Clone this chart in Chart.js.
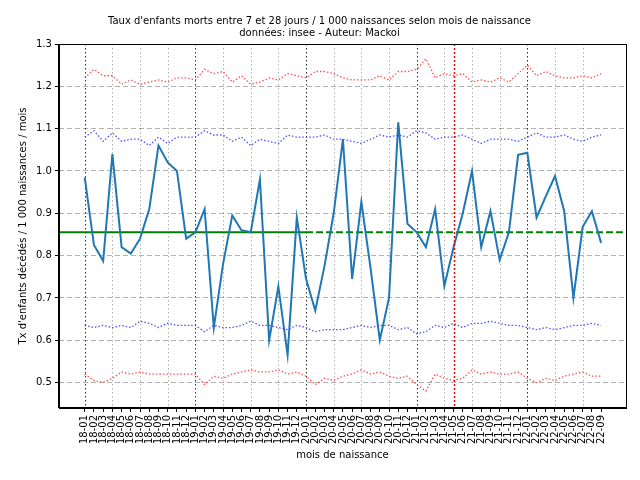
<!DOCTYPE html>
<html>
<head>
<meta charset="utf-8">
<script src="https://cdn.jsdelivr.net/npm/chart.js@4"></script>
<style>
  html, body { margin: 0; padding: 0; background: #fff; }
  #wrap { width: 640px; height: 480px; }
</style>
</head>
<body>
<div id="wrap"><canvas id="chart" width="640" height="480"></canvas></div>
<script>
const months = [];
for (let y = 18; y <= 22; y++) {
  for (let m = 1; m <= 12; m++) {
    if (y === 22 && m > 9) break;
    months.push(y + "-" + String(m).padStart(2, "0"));
  }
}

const taux = [0.985, 0.825, 0.787, 1.04, 0.82, 0.805, 0.84, 0.91, 1.06, 1.02, 1.0, 0.84,
  0.855, 0.91, 0.63, 0.78, 0.895, 0.86, 0.855, 0.98, 0.60, 0.727, 0.565, 0.89,
  0.745, 0.67, 0.775, 0.90, 1.075, 0.745, 0.927, 0.77, 0.60, 0.70, 1.115, 0.875,
  0.855, 0.82, 0.91, 0.728, 0.82, 0.90, 1.0, 0.82, 0.905, 0.79, 0.855, 1.038,
  1.043, 0.89, 0.94, 0.988, 0.905, 0.70, 0.868, 0.905, 0.83];

const hautRouge = [1.22, 1.24, 1.225, 1.225, 1.205, 1.215, 1.205, 1.21, 1.215, 1.21, 1.22, 1.22,
  1.215, 1.24, 1.23, 1.235, 1.21, 1.225, 1.205, 1.21, 1.22, 1.215, 1.23, 1.225,
  1.22, 1.235, 1.235, 1.23, 1.22, 1.215, 1.215, 1.215, 1.225, 1.215, 1.235, 1.235,
  1.24, 1.265, 1.22, 1.23, 1.225, 1.23, 1.21, 1.215, 1.21, 1.22, 1.21, 1.23,
  1.25, 1.225, 1.235, 1.225, 1.22, 1.22, 1.225, 1.22, 1.23];

const hautBleu = [1.08, 1.095, 1.07, 1.09, 1.07, 1.075, 1.075, 1.06, 1.08, 1.065, 1.08, 1.08,
  1.08, 1.095, 1.085, 1.085, 1.07, 1.08, 1.06, 1.075, 1.07, 1.065, 1.085, 1.08,
  1.08, 1.08, 1.085, 1.075, 1.075, 1.07, 1.065, 1.075, 1.085, 1.08, 1.085, 1.08,
  1.095, 1.09, 1.075, 1.08, 1.08, 1.085, 1.075, 1.065, 1.075, 1.075, 1.075, 1.07,
  1.08, 1.09, 1.08, 1.08, 1.085, 1.075, 1.07, 1.08, 1.085];

const basBleu = [0.635, 0.63, 0.635, 0.63, 0.635, 0.63, 0.645, 0.64, 0.63, 0.64, 0.635, 0.635,
  0.635, 0.62, 0.635, 0.63, 0.63, 0.635, 0.645, 0.635, 0.635, 0.63, 0.625, 0.635,
  0.63, 0.62, 0.625, 0.625, 0.625, 0.63, 0.635, 0.63, 0.635, 0.635, 0.625, 0.63,
  0.615, 0.62, 0.635, 0.63, 0.64, 0.63, 0.64, 0.64, 0.645, 0.64, 0.635, 0.635,
  0.63, 0.625, 0.63, 0.625, 0.63, 0.635, 0.635, 0.64, 0.635];

const basRouge = [0.52, 0.505, 0.5, 0.51, 0.525, 0.52, 0.525, 0.52, 0.52, 0.52, 0.52, 0.52,
  0.52, 0.495, 0.515, 0.51, 0.52, 0.525, 0.53, 0.525, 0.525, 0.53, 0.52, 0.525,
  0.515, 0.495, 0.51, 0.505, 0.515, 0.52, 0.53, 0.52, 0.525, 0.515, 0.51, 0.515,
  0.495, 0.48, 0.52, 0.51, 0.505, 0.51, 0.53, 0.52, 0.525, 0.52, 0.52, 0.525,
  0.51, 0.5, 0.51, 0.505, 0.515, 0.52, 0.525, 0.515, 0.515];

const moyenne = 0.855;
const finReference = 24;   // 20-01 : fin de la période de référence
const moisRouge = 40;      // 21-05

const lignesVerticales = {
  id: "lignesVerticales",
  beforeDatasetsDraw(chart) {
    const { ctx, chartArea, scales } = chart;
    ctx.save();
    ctx.lineWidth = 1;
    ctx.setLineDash([1.5, 2.5]);
    months.forEach((m, i) => {
      let color = null;
      if (i === moisRouge) return;
      if (i % 12 === 0) color = "rgba(0,0,0,0.8)";
      else if (i % 3 === 0) color = "rgba(0,0,0,0.3)";
      if (!color) return;
      const x = Math.round(scales.x.getPixelForValue(i)) + 0.5;
      ctx.strokeStyle = color;
      ctx.beginPath();
      ctx.moveTo(x, chartArea.top);
      ctx.lineTo(x, chartArea.bottom);
      ctx.stroke();
    });
    // moyenne
    const y = scales.y.getPixelForValue(moyenne);
    const xr = scales.x.getPixelForValue(finReference);
    ctx.strokeStyle = "green";
    ctx.lineWidth = 2;
    ctx.setLineDash([]);
    ctx.beginPath();
    ctx.moveTo(chartArea.left, y);
    ctx.lineTo(xr, y);
    ctx.stroke();
    ctx.setLineDash([7, 3]);
    ctx.beginPath();
    ctx.moveTo(xr, y);
    ctx.lineTo(chartArea.right, y);
    ctx.stroke();
    ctx.restore();
  },
  afterDatasetsDraw(chart) {
    const { ctx, chartArea, scales } = chart;
    const x = Math.round(scales.x.getPixelForValue(moisRouge)) + 0.5;
    ctx.save();
    ctx.strokeStyle = "red";
    ctx.lineWidth = 1.5;
    ctx.setLineDash([2, 2]);
    ctx.beginPath();
    ctx.moveTo(x, chartArea.top);
    ctx.lineTo(x, chartArea.bottom);
    ctx.stroke();
    ctx.setLineDash([]);
    ctx.strokeStyle = "#000";
    ctx.lineWidth = 1;
    ctx.strokeRect(Math.round(chartArea.left) + 0.5, Math.round(chartArea.top) + 0.5,
      Math.round(chartArea.right - chartArea.left), Math.round(chartArea.bottom - chartArea.top));
    ctx.restore();
  },
};

const points = (vals) => vals.map((v, i) => ({ x: i, y: v }));

const bande = (vals, color) => ({
  data: points(vals),
  borderColor: color,
  borderWidth: 1.3,
  borderDash: [1.5, 2],
  pointRadius: 0,
  tension: 0,
});

new Chart(document.getElementById("chart"), {
  type: "line",
  data: {
    datasets: [
      bande(hautRouge, "rgba(255,60,60,0.9)"),
      bande(hautBleu, "rgba(60,60,255,0.9)"),
      bande(basBleu, "rgba(60,60,255,0.9)"),
      bande(basRouge, "rgba(255,60,60,0.9)"),
      {
        data: points(taux),
        borderColor: "#1f77b4",
        borderWidth: 2,
        pointRadius: 0,
        tension: 0,
      },
    ],
  },
  options: {
    responsive: false,
    animation: false,
    devicePixelRatio: 1,
    layout: { padding: { left: 13, right: 14, top: 3, bottom: 15 } },
    plugins: {
      legend: { display: false },
      tooltip: { enabled: false },
      title: {
        display: true,
        text: ["Taux d'enfants morts entre 7 et 28 jours / 1 000 naissances selon mois de naissance",
               "données: insee - Auteur: Mackoi"],
        color: "#000",
        font: { family: "DejaVu Sans", size: 10, weight: "normal", lineHeight: 1.2 },
        padding: { top: 12, bottom: 5 },
      },
    },
    scales: {
      x: {
        type: "linear",
        min: -2.8,
        max: 58.7,
        afterBuildTicks(axis) {
          axis.ticks = months.map((m, i) => ({ value: i }));
        },
        ticks: {
          autoSkip: false,
          maxRotation: 90,
          minRotation: 90,
          color: "#000",
          font: { family: "DejaVu Sans", size: 10 },
          callback: (v) => months[v],
        },
        grid: { drawOnChartArea: false, color: "#000", tickLength: 4 },
        border: { color: "#000", width: 1 },
        title: {
          display: true,
          text: "mois de naissance",
          color: "#000",
          font: { family: "DejaVu Sans", size: 10 },
          padding: { top: 2 },
        },
      },
      y: {
        min: 0.44,
        max: 1.3,
        afterBuildTicks(axis) {
          axis.ticks = [0.5, 0.6, 0.7, 0.8, 0.9, 1.0, 1.1, 1.2, 1.3].map((v) => ({ value: v }));
        },
        ticks: {
          color: "#000",
          font: { family: "DejaVu Sans", size: 10 },
          callback: (v) => v.toFixed(1),
        },
        grid: { color: "rgba(0,0,0,0.3)", tickColor: "#000", tickLength: 4 },
        border: { color: "#000", width: 1, dash: [5, 3] },
        title: {
          display: true,
          text: "Tx d'enfants décédés / 1 000 naissances / mois",
          color: "#000",
          font: { family: "DejaVu Sans", size: 10 },
        },
      },
    },
  },
  plugins: [lignesVerticales],
});
</script>
</body>
</html>
